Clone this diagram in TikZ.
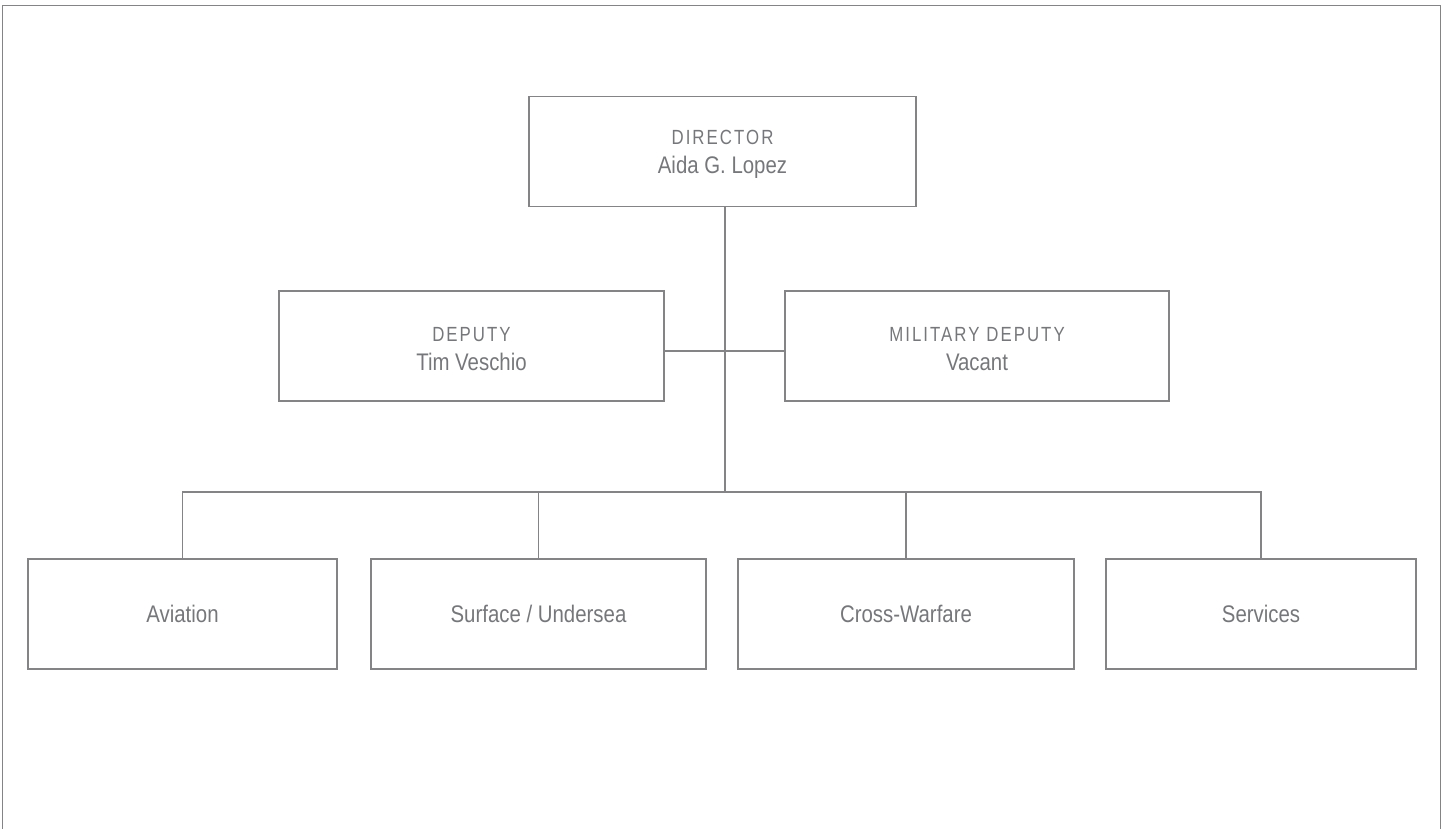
\documentclass[tikz,border=0pt]{standalone}
\usepackage{fontspec}
\setmainfont{Liberation Sans}
\newfontfamily\basefont[FakeStretch=0.85]{Liberation Sans}
\newfontfamily\capsfont[FakeStretch=0.82,LetterSpace=10]{Liberation Sans}
\definecolor{linegray}{RGB}{132,132,134}
\definecolor{textgray}{RGB}{118,119,122}
\newcommand{\ttl}[1]{{\capsfont\fontsize{20.5}{29}\selectfont\rule{0pt}{20.5pt}#1}}
\begin{document}
\begin{tikzpicture}[x=1pt,y=-1pt,
  orgbox/.style={draw=linegray, line width=1.4pt, rectangle, align=center,
    minimum height=110pt, inner sep=0pt, text=textgray,
    font=\basefont\fontsize{24}{29}\selectfont},
  link/.style={draw=linegray, line width=1.4pt}]
\useasboundingbox (0,0) rectangle (1442,829);
% outer frame (open at the bottom)
\draw[link] (2.5,829) -- (2.5,5.5) -- (1440.5,5.5) -- (1440.5,829);

\node[orgbox, minimum width=387pt] (dir) at (722.5,151.5) {\ttl{DIRECTOR}\\Aida G. Lopez};
\node[orgbox, minimum width=385pt] (dep) at (471.5,346) {\ttl{DEPUTY}\\Tim Veschio};
\node[orgbox, minimum width=384pt] (mil) at (977,346) {\ttl{MILITARY DEPUTY}\\Vacant};

\node[orgbox, minimum width=309pt] (avi) at (182.5,614) {Aviation};
\node[orgbox, minimum width=335pt] (sur) at (538.5,614) {Surface / Undersea};
\node[orgbox, minimum width=336pt] (cro) at (906,614) {Cross-Warfare};
\node[orgbox, minimum width=310pt] (ser) at (1261,614) {Services};

\coordinate (spine) at (725,492);
\coordinate (mid) at (725,351);

\draw[link] (dir.south -| spine) -- (spine);
\draw[link] (dep.east |- mid) -- (mil.west |- mid);
\draw[link] (avi.north) -- (avi.north |- spine) -- (ser.north |- spine) -- (ser.north);
\draw[link] (sur.north) -- (sur.north |- spine);
\draw[link] (cro.north) -- (cro.north |- spine);
\end{tikzpicture}
\end{document}
